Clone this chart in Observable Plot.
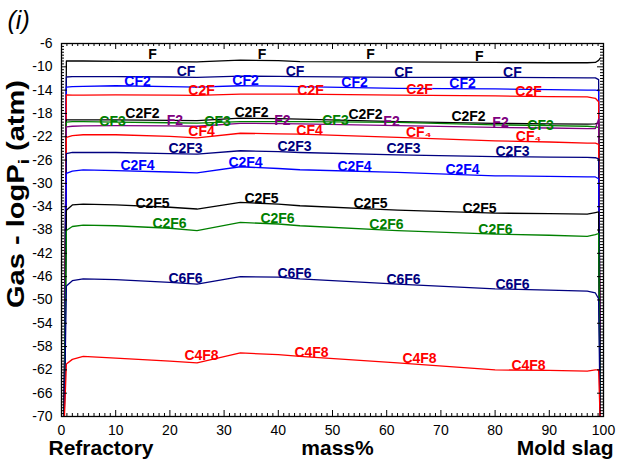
<!DOCTYPE html>
<html><head><meta charset="utf-8">
<script src="https://cdn.jsdelivr.net/npm/d3@7"></script>
<script src="https://cdn.jsdelivr.net/npm/@observablehq/plot@0.6"></script>
<style>body{margin:0;background:#fff} #chart{width:617px;height:459px}</style>
</head><body><div id="chart"></div>
<script>
// x positions (mass%) at which each curve was read
const xs = [0.5, 0.9, 2, 4, 10, 20, 25, 33, 40, 44, 62, 80, 90, 97, 98.5, 99.1, 99.4];

const seriesNames  = ["F","CF","CF2","C2F","C2F2","CF3","F2","CF4","C2F3","C2F4","C2F5","C2F6","C6F6","C4F8"];
const seriesColors = ["#000000","#000080","#0000ff","#ff0000","#000000","#008000","#800080","#ff0000","#000080","#0000ff","#000000","#008000","#000080","#ff0000"];

const vF    = [-71, -9.0, -9.0, -9.0, -9.05, -9.1, -9.15, -8.85, -8.95, -9.1, -9.15, -9.25, -9.3, -9.3, -9.25, -8.9, -8.5];
const vCF   = [-71, -11.75, -11.7, -11.7, -11.7, -11.75, -11.8, -11.6, -11.65, -11.7, -11.8, -11.8, -11.85, -11.9, -11.9, -12.2, -71];
const vCF2  = [-71, -13.5, -13.4, -13.35, -13.25, -13.4, -13.5, -13.25, -13.3, -13.4, -13.7, -13.8, -13.9, -14.0, -14.0, -14.1, -71];
const vC2F  = [-71, -14.8, -14.85, -14.85, -14.8, -14.85, -14.9, -14.7, -14.7, -14.7, -14.85, -15.0, -15.1, -15.15, -15.4, -16.0, -71];
const vC2F2 = [-71, -19.1, -19.1, -19.1, -19.1, -19.2, -19.25, -18.8, -18.9, -18.97, -19.4, -19.7, -19.8, -19.85, -19.8, -19.6, -71];
const vCF3  = [-71, -19.5, -19.4, -19.4, -19.5, -19.6, -19.65, -19.4, -19.4, -19.4, -19.55, -19.95, -20.1, -20.2, -20.3, -20.4, -71];
const vF2   = [-71, -20.3, -20.2, -20.15, -20.1, -20.15, -20.2, -19.7, -19.75, -19.8, -20.1, -20.4, -20.5, -20.6, -20.6, -19.0, -71];
const vCF4  = [-71, -22.1, -21.8, -21.66, -21.66, -21.95, -22.2, -21.4, -21.5, -21.55, -22.1, -22.7, -22.9, -23.1, -23.1, -23.3, -71];
const vC2F3 = [-71, -24.9, -24.7, -24.7, -24.7, -24.9, -24.97, -24.4, -24.55, -24.7, -25.1, -25.4, -25.5, -25.55, -25.6, -25.8, -71];
const vC2F4 = [-71, -28.3, -27.9, -27.7, -27.8, -28.05, -28.2, -27.15, -27.45, -27.66, -28.1, -28.7, -28.8, -28.9, -28.9, -29.2, -71];
const vC2F5 = [-71, -34.6, -33.7, -33.55, -33.7, -34.1, -34.4, -33.27, -33.55, -33.84, -34.6, -35.1, -35.2, -35.27, -35.0, -34.9, -71];
const vC2F6 = [-71, -38.1, -37.4, -37.15, -37.27, -37.7, -38.1, -36.7, -36.97, -37.27, -38.1, -38.7, -38.9, -39.1, -38.8, -38.6, -71];
const vC6F6 = [-71, -47.6, -46.7, -46.4, -46.5, -47.0, -47.3, -46.0, -46.1, -46.4, -47.3, -48.1, -48.3, -48.5, -48.8, -49.8, -71];
const vC4F8 = [-71, -61.0, -60.2, -59.7, -60.0, -60.5, -60.8, -59.1, -59.4, -59.7, -60.8, -62.0, -62.1, -62.2, -62.0, -62.0, -71];
const seriesValues = [vF, vCF, vCF2, vC2F, vC2F2, vCF3, vF2, vCF4, vC2F3, vC2F4, vC2F5, vC2F6, vC6F6, vC4F8];

// curve labels: series index, text, x, y
const labelSeries = [0,0,0,0, 1,1,1,1, 2,2,2,2, 3,3,3,3, 4,4,4,4, 5,5,5,5, 6,6,6,6, 7,7,7,7, 8,8,8,8, 9,9,9,9, 10,10,10,10, 11,11,11,11, 12,12,12,12, 13,13,13,13];
const labelText = ["F","F","F","F", "CF","CF","CF","CF", "CF2","CF2","CF2","CF2", "C2F","C2F","C2F","C2F",
  "C2F2","C2F2","C2F2","C2F2", "CF3","CF3","CF3","CF3", "F2","F2","F2","F2", "CF4","CF4","CF\u2084","CF\u2084",
  "C2F3","C2F3","C2F3","C2F3", "C2F4","C2F4","C2F4","C2F4", "C2F5","C2F5","C2F5","C2F5", "C2F6","C2F6","C2F6","C2F6",
  "C6F6","C6F6","C6F6","C6F6", "C4F8","C4F8","C4F8","C4F8"];
const labelX = [16.8,37.0,57.0,77.1, 22.97,43.08,63.1,83.2, 14.02,33.95,54.06,73.99, 25.83,45.94,66.05,86.16,
  14.94,35.06,56.09,75.09, 9.41,28.78,50.55,88.38, 20.94,40.77,60.89,81.0, 25.83,45.76,65.9,86.16,
  22.88,42.99,63.1,83.21, 14.02,33.95,54.06,73.99, 16.79,36.9,57.01,77.12, 19.93,39.85,59.96,80.07,
  22.88,42.99,63.1,83.21, 25.83,46.13,66.05,86.16];
const labelY = [-7.94,-7.94,-7.94,-8.2, -10.77,-10.77,-10.94,-10.94, -12.48,-12.31,-12.66,-12.83, -14.11,-14.0,-13.94,-14.28,
  -17.97,-17.8,-18.23,-18.49, -19.34,-19.34,-19.26,-20.11, -19.26,-19.26,-19.43,-19.6, -21.06,-20.97,-21.32,-21.92,
  -24.07,-23.72,-24.07,-24.58, -26.98,-26.38,-27.06,-27.66, -33.41,-32.64,-33.41,-34.27, -36.84,-35.98,-37.1,-37.96,
  -46.36,-45.5,-46.53,-47.39, -59.57,-58.97,-60.08,-61.28];

const xMajor = d3.range(0, 101, 10);
const xMinor = d3.range(0, 101, 1).filter(d => d % 10 !== 0);
const yMajor = d3.range(-6, -71, -4);
const yMinor = d3.range(-70, -5.9, 0.5).filter(d => !yMajor.includes(d));

const W = 617, H = 459, mL = 61, mR = 14, mT = 43, mB = 43;
const iw = W - mL - mR, ih = H - mT - mB;

const rows = [];
seriesNames.forEach((s, i) => xs.forEach((x, j) => rows.push({series: s, x, y: seriesValues[i][j]})));
const labels = labelText.map((t, i) => ({text: t, x: labelX[i], y: labelY[i], color: seriesColors[labelSeries[i]]}));

const lineMarks = seriesNames.map((s, i) =>
  Plot.line(rows.filter(r => r.series === s), {x: "x", y: "y", stroke: seriesColors[i], strokeWidth: 1.3, clip: true}));

const chart = Plot.plot({
  width: W, height: H,
  marginLeft: mL, marginRight: mR, marginTop: mT, marginBottom: mB,
  style: {fontFamily: "'Liberation Sans', Arial, sans-serif", fontSize: "14px", color: "#000", background: "#fff"},
  x: {domain: [0, 100], ticks: xMajor, tickSize: 0, tickPadding: 9, label: null, tickFormat: d => String(d)},
  y: {domain: [-70, -6], ticks: yMajor, tickSize: 0, tickPadding: 9, label: null, tickFormat: d => String(d)},
  marks: [
    ...lineMarks,
    Plot.text(labels, {x: "x", y: "y", text: "text", fill: "color", fontWeight: "bold", fontSize: 14, textAnchor: "middle", lineAnchor: "middle"}),
    // inward ticks
    Plot.ruleX(xMinor, {insetTop: ih - 3, stroke: "#000"}),
    Plot.ruleX(xMinor, {insetBottom: ih - 3, stroke: "#000"}),
    Plot.ruleX(xMajor, {insetTop: ih - 6, stroke: "#000"}),
    Plot.ruleX(xMajor, {insetBottom: ih - 6, stroke: "#000"}),
    Plot.ruleY(yMinor, {insetRight: iw - 3, stroke: "#000"}),
    Plot.ruleY(yMinor, {insetLeft: iw - 3, stroke: "#000"}),
    Plot.ruleY(yMajor, {insetRight: iw - 6, stroke: "#000"}),
    Plot.ruleY(yMajor, {insetLeft: iw - 6, stroke: "#000"}),
    Plot.frame({stroke: "#000", strokeWidth: 1.3}),
    Plot.text(["(i)"], {text: d => d, frameAnchor: "top-left", dx: -54, dy: -15, textAnchor: "start", lineAnchor: "bottom", fontSize: 25, fontStyle: "italic", fill: "#000"}),
    Plot.text(["Refractory"], {text: d => d, frameAnchor: "bottom-left", dx: -13, dy: 38, textAnchor: "start", lineAnchor: "bottom", fontSize: 21, fontWeight: "bold", fill: "#000"}),
    Plot.text(["mass%"], {text: d => d, frameAnchor: "bottom", dx: 5, dy: 38, textAnchor: "middle", lineAnchor: "bottom", fontSize: 21, fontWeight: "bold", fill: "#000"}),
    Plot.text(["Mold slag"], {text: d => d, frameAnchor: "bottom-right", dx: 10, dy: 38, textAnchor: "end", lineAnchor: "bottom", fontSize: 21, fontWeight: "bold", fill: "#000"})
  ]
});
document.getElementById("chart").appendChild(chart);

// rotated y-axis title with subscript
const svg = d3.select(chart);
const yt = svg.append("text")
  .attr("transform", "translate(24,194) rotate(-90)")
  .attr("text-anchor", "middle")
  .attr("font-family", "'Liberation Sans', Arial, sans-serif")
  .attr("font-size", 23).attr("font-weight", "bold").attr("fill", "#000")
  .attr("textLength", 228).attr("lengthAdjust", "spacingAndGlyphs");
yt.append("tspan").text("Gas - logP");
yt.append("tspan").attr("font-size", 15).attr("dy", 5).text("i");
yt.append("tspan").attr("dy", -5).text(" (atm)");
</script>
</body></html>
